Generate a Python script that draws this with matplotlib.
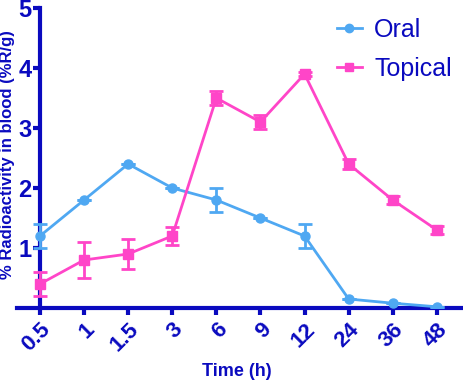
import matplotlib
matplotlib.use("Agg")
import matplotlib.pyplot as plt
from matplotlib.lines import Line2D
import numpy as np

plt.rcParams["font.family"] = ["Liberation Sans", "DejaVu Sans"]

times = ["0.5", "1", "1.5", "3", "6", "9", "12", "24", "36", "48"]
oral = [1.2, 1.8, 2.4, 2.0, 1.8, 1.5, 1.2, 0.15, 0.08, 0.02]
oral_err = [0.2, 0.0, 0.0, 0.0, 0.2, 0.0, 0.2, 0.0, 0.0, 0.0]
topical = [0.4, 0.8, 0.9, 1.2, 3.5, 3.1, 3.9, 2.4, 1.8, 1.3]
topical_err = [0.2, 0.3, 0.25, 0.15, 0.11, 0.12, 0.04, 0.08, 0.06, 0.07]

AX = "#0A0ABF"
ORAL_C = "#4FA8F2"
TOP_C = "#FF45C8"

fig = plt.figure(figsize=(4.64, 3.85), dpi=100)
ax = fig.add_axes([17/464, 77/385, 445/464, 300/385])
x = np.arange(len(times))

ax.errorbar(x, oral, yerr=oral_err, color=ORAL_C, marker="o", markersize=6.5,
            lw=2, capsize=5, capthick=2, elinewidth=2, zorder=3)
ax.errorbar(x, topical, yerr=topical_err, color=TOP_C, marker="s", markersize=6.5,
            lw=2, capsize=5, capthick=2, elinewidth=2, zorder=3)

ax.set_xlim(-0.52, 9.57)
ax.set_ylim(0, 5)
for s in ["top", "right"]:
    ax.spines[s].set_visible(False)
ax.spines["left"].set_position(("data", 0))
for s in ["left", "bottom"]:
    ax.spines[s].set_color(AX)
    ax.spines[s].set_linewidth(3)

ax.set_xticks(x)
ax.set_xticklabels(times, rotation=45, ha="right", rotation_mode="anchor",
                   fontsize=16, fontweight="bold", color=AX)
ax.set_yticks([1, 2, 3, 4, 5])
ax.set_yticklabels(["1", "2", "3", "4", "5"], fontsize=17, fontweight="bold", color=AX)
ax.tick_params(axis="both", colors=AX, width=3, length=5, pad=1)
ax.tick_params(axis="x", pad=3)

fig.text(237/464, 1 - 372/385, "Time (h)", ha="center", va="center",
         fontsize=13, fontweight="bold", color=AX)
fig.text(8/464, 1 - 155/385, "% Radioactivity in blood (%R/g)", ha="center", va="center",
         rotation=90, fontsize=12, fontweight="bold", color=AX)

handles = [Line2D([], [], color=ORAL_C, marker="o", markersize=6, lw=2),
           Line2D([], [], color=TOP_C, marker="s", markersize=6, lw=2)]
leg = ax.legend(handles, ["Oral", "Topical"], loc="upper right",
                bbox_to_anchor=(1.0, 1.0), frameon=False,
                fontsize=18, handlelength=1.0, handletextpad=0.5, labelspacing=0.6,
                borderaxespad=0.0)
for t in leg.get_texts():
    t.set_color(AX)

fig.savefig("out.png", dpi=100)
